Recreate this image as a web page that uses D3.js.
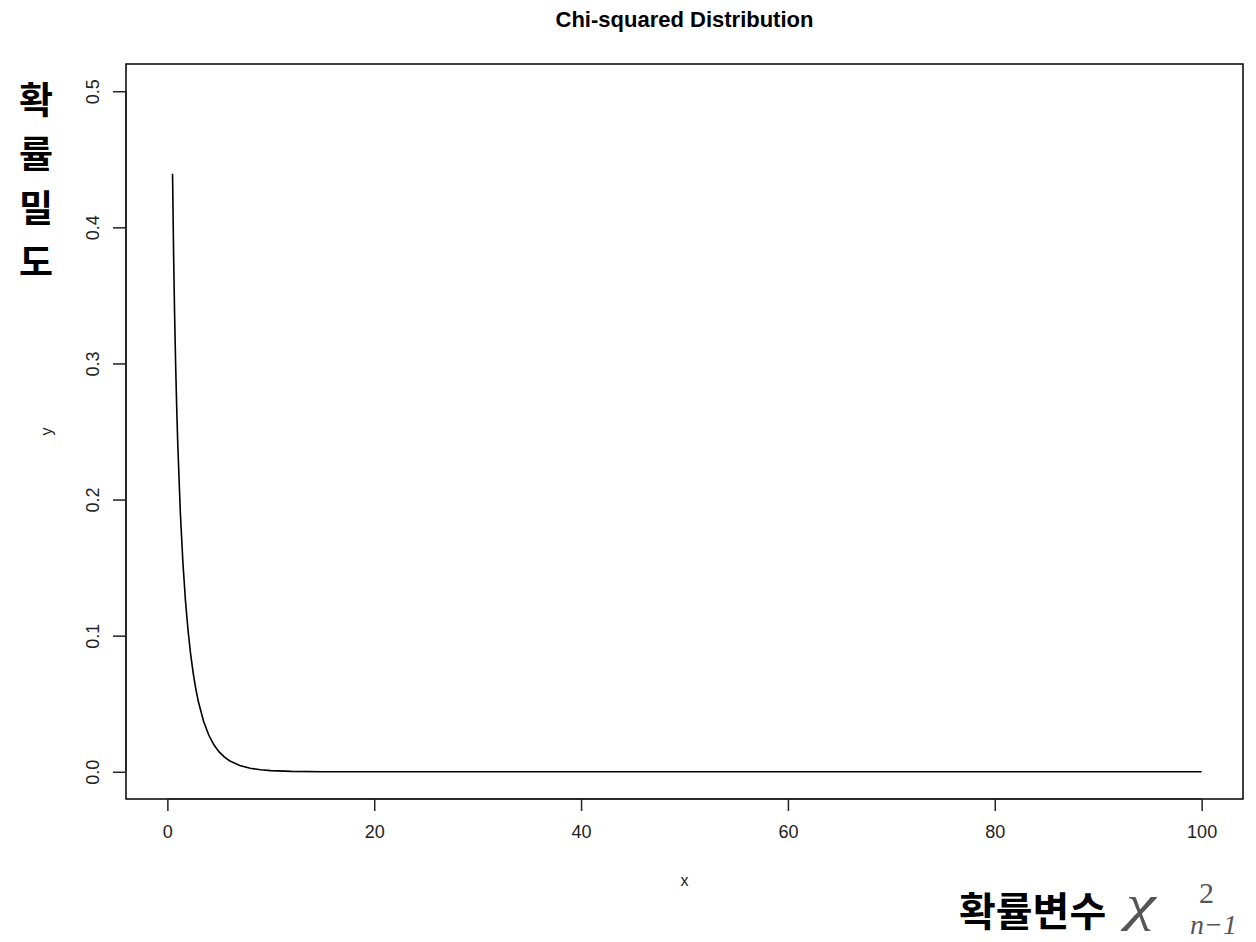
<!DOCTYPE html>
<html>
<head>
<meta charset="utf-8">
<script src="https://cdn.jsdelivr.net/npm/d3@7"></script>
<style>
  body { margin: 0; background: #fff; }
  svg { display: block; }
</style>
</head>
<body>
<div id="chart"></div>
<script>
// chi-squared (df = 1) density
const xs = [0.5, 0.6, 0.7, 0.8, 0.9, 1, 1.25, 1.5, 1.75, 2, 2.25, 2.5, 2.75, 3, 3.5, 4, 4.5, 5, 5.5, 6, 7, 8, 9, 10, 12, 15, 20, 30, 40, 50, 60, 70, 80, 90, 100]
const ys = [0.4394, 0.3815, 0.3360, 0.2990, 0.2681, 0.2420, 0.1910, 0.1539, 0.1257, 0.1038, 0.0864, 0.0723, 0.0608, 0.0514, 0.0371, 0.0270, 0.0198, 0.0146, 0.0109, 0.0081, 0.0046, 0.0026, 0.0015, 0.00085, 0.00029, 0.00006, 0.00001, 0, 0, 0, 0, 0, 0, 0, 0]
const xTicks = [0, 20, 40, 60, 80, 100]
const yTicks = [0.0, 0.1, 0.2, 0.3, 0.4, 0.5]
const yLabelChars = ['확', '률', '밀', '도']

var width = 1256, height = 942;
var margin = {top: 64, right: 13, bottom: 143, left: 126};

var svg = d3.select('#chart').append('svg')
    .attr('width', width)
    .attr('height', height);

var x = d3.scaleLinear()
    .domain([-4, 104])
    .range([margin.left, width - margin.right]);

var y = d3.scaleLinear()
    .domain([-0.02, 0.52])
    .range([height - margin.bottom, margin.top]);

var data = xs.map(function(d, i){ return {x: d, y: ys[i]}; });

// box
svg.append('rect')
    .attr('x', x(-4))
    .attr('y', y(0.52))
    .attr('width', x(104) - x(-4))
    .attr('height', y(-0.02) - y(0.52))
    .attr('fill', 'none')
    .attr('stroke', 'black')
    .attr('stroke-width', 1.5);

// axes
var xAxis = svg.append('g')
    .attr('transform', 'translate(0,' + y(-0.02) + ')')
    .call(d3.axisBottom(x).tickValues(xTicks).tickSize(12).tickPadding(14).tickFormat(d3.format('d')));
xAxis.select('.domain')
    .attr('d', 'M' + x(0) + ',0H' + x(100));

var yAxis = svg.append('g')
    .attr('transform', 'translate(' + x(-4) + ',0)')
    .call(d3.axisLeft(y).tickValues(yTicks).tickSize(13).tickFormat(d3.format('.1f')));
yAxis.select('.domain')
    .attr('d', 'M0,' + y(0) + 'V' + y(0.5));
yAxis.selectAll('.tick text')
    .attr('transform', 'rotate(-90)')
    .attr('x', 0)
    .attr('y', -27)
    .attr('dy', '0')
    .attr('text-anchor', 'middle');

svg.selectAll('.tick line, .domain')
    .attr('stroke', '#222')
    .attr('stroke-width', 1.5);
svg.selectAll('.tick text')
    .attr('font-family', 'Liberation Sans, Arial, sans-serif')
    .attr('font-size', 18)
    .attr('fill', '#222');

// curve
var line = d3.line()
    .x(function(d){ return x(d.x); })
    .y(function(d){ return y(d.y); });

svg.append('path')
    .datum(data)
    .attr('d', line)
    .attr('fill', 'none')
    .attr('stroke', 'black')
    .attr('stroke-width', 1.6);

// title and axis labels
svg.append('text')
    .attr('x', (x(-4) + x(104)) / 2)
    .attr('y', 27)
    .attr('text-anchor', 'middle')
    .attr('font-family', 'Liberation Sans, Arial, sans-serif')
    .attr('font-weight', 'bold')
    .attr('font-size', 22)
    .text('Chi-squared Distribution');

svg.append('text')
    .attr('x', (x(-4) + x(104)) / 2)
    .attr('y', 886)
    .attr('text-anchor', 'middle')
    .attr('font-family', 'Liberation Sans, Arial, sans-serif')
    .attr('font-size', 16)
    .attr('fill', '#222')
    .text('x');

svg.append('text')
    .attr('transform', 'translate(52,' + ((y(-0.02) + y(0.52)) / 2) + ') rotate(-90)')
    .attr('text-anchor', 'middle')
    .attr('font-family', 'Liberation Sans, Arial, sans-serif')
    .attr('font-size', 16)
    .attr('fill', '#222')
    .text('y');

// korean annotations
var kr = 'Noto Sans CJK KR, sans-serif';
svg.append('g').selectAll('text')
    .data(yLabelChars)
    .join('text')
    .attr('x', 36)
    .attr('y', function(d, i){ return 114 + i * 54; })
    .attr('text-anchor', 'middle')
    .attr('font-family', kr)
    .attr('font-weight', 'bold')
    .attr('font-size', 37)
    .text(function(d){ return d; });

svg.append('text')
    .attr('x', 959)
    .attr('y', 926)
    .attr('font-family', kr)
    .attr('font-weight', 'bold')
    .attr('font-size', 40)
    .text('확률변수');

var math = svg.append('g').attr('fill', '#555').attr('font-family', 'Liberation Serif, serif').attr('font-style', 'italic');
math.append('text').attr('transform', 'translate(1126,920) scale(1.35,1)').attr('font-size', 50).text('χ');
math.append('text').attr('x', 1199).attr('y', 903).attr('font-size', 30).attr('font-style', 'normal').text('2');
math.append('text').attr('x', 1190).attr('y', 934).attr('font-size', 28).text('n−1');
</script>
</body>
</html>
